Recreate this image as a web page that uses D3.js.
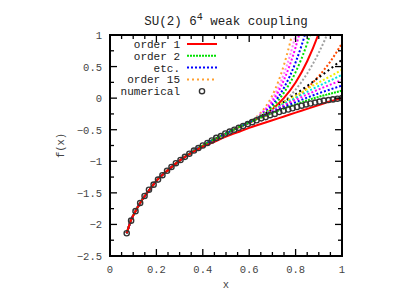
<!DOCTYPE html>
<html>
<head>
<meta charset="utf-8">
<script src="https://cdn.jsdelivr.net/npm/d3@7"></script>
<style>
  body { margin: 0; background: #fff; }
  svg text { font-family: "Liberation Mono", "DejaVu Sans Mono", monospace; }
</style>
</head>
<body>
<div id="chart"></div>
<script>
// numerical result (circles)
const numX = [0.072, 0.091, 0.110, 0.130, 0.149, 0.168, 0.188, 0.207, 0.226, 0.246,
              0.265, 0.284, 0.304, 0.323, 0.342, 0.362, 0.381, 0.400, 0.420, 0.439,
              0.458, 0.478, 0.497, 0.516, 0.536, 0.555, 0.574, 0.594, 0.613, 0.632,
              0.652, 0.671, 0.690, 0.710, 0.729, 0.748, 0.768, 0.787, 0.806, 0.826,
              0.845, 0.864, 0.884, 0.903, 0.922, 0.942, 0.961, 0.980, 1.000];
const numY = [-2.14, -1.94, -1.79, -1.66, -1.55, -1.45, -1.37, -1.29, -1.22, -1.15,
              -1.09, -1.03, -0.98, -0.93, -0.88, -0.83, -0.79, -0.75, -0.71, -0.67,
              -0.63, -0.60, -0.56, -0.53, -0.50, -0.47, -0.44, -0.41, -0.38, -0.35,
              -0.32, -0.30, -0.27, -0.25, -0.22, -0.20, -0.18, -0.16, -0.14, -0.12,
              -0.10, -0.085, -0.07, -0.055, -0.04, -0.03, -0.02, -0.01, 0.0];

// weak coupling expansions: common low-x part, then one tail per order
const baseX = [0.072, 0.09, 0.11, 0.13, 0.15, 0.175, 0.2, 0.25, 0.3];
const baseY = [-2.14, -1.94, -1.79, -1.66, -1.55, -1.43, -1.31, -1.14, -0.99];
const tailX = [0.35, 0.4, 0.45, 0.5, 0.55, 0.6, 0.65, 0.7, 0.75, 0.8, 0.85, 0.9, 0.95, 1.0];
const order1  = [-0.87, -0.77, -0.69, -0.61, -0.54, -0.47, -0.41, -0.35, -0.29, -0.23, -0.17, -0.11, -0.05, 0.0];
const order2  = [-0.86, -0.75, -0.65, -0.56, -0.47, -0.386, -0.307, -0.237, -0.164, -0.10, -0.035, 0.022, 0.07, 0.12];
const order3  = [-0.86, -0.75, -0.65, -0.56, -0.47, -0.383, -0.299, -0.222, -0.141, -0.067, 0.009, 0.077, 0.138, 0.20];
const order4  = [-0.86, -0.75, -0.65, -0.56, -0.47, -0.379, -0.29, -0.204, -0.114, -0.03, 0.058, 0.139, 0.213, 0.29];
const order5  = [-0.86, -0.75, -0.65, -0.56, -0.47, -0.376, -0.281, -0.189, -0.09, 0.003, 0.101, 0.194, 0.28, 0.37];
const order6  = [-0.86, -0.75, -0.65, -0.56, -0.47, -0.373, -0.273, -0.174, -0.067, 0.036, 0.145, 0.249, 0.347, 0.45];
const order7  = [-0.86, -0.75, -0.65, -0.56, -0.47, -0.378, -0.28, -0.176, -0.058, 0.062, 0.194, 0.328, 0.464, 0.61];
const order8  = [-0.86, -0.75, -0.65, -0.56, -0.47, -0.389, -0.31, -0.228, -0.123, 0.0, 0.158, 0.35, 0.581, 0.87];
const order9  = [-0.86, -0.75, -0.65, -0.56, -0.47, -0.388, -0.302, -0.2, -0.054, 0.135, 0.391, 0.72, 1.135, 1.66];
const order10 = [-0.86, -0.75, -0.65, -0.56, -0.47, -0.388, -0.295, -0.175, 0.003, 0.247, 0.584, 1.028, 1.59, 2.31];
const order11 = [-0.86, -0.75, -0.65, -0.56, -0.47, -0.387, -0.284, -0.139, 0.088, 0.412, 0.868, 1.48, 2.27, 3.27];
const order12 = [-0.86, -0.75, -0.65, -0.56, -0.47, -0.386, -0.274, -0.106, 0.166, 0.566, 1.131, 1.9, 2.89, 4.16];
const order13 = [-0.86, -0.75, -0.65, -0.56, -0.47, -0.384, -0.259, -0.054, 0.289, 0.806, 1.546, 2.56, 3.87, 5.56];
const order14 = [-0.86, -0.75, -0.65, -0.56, -0.47, -0.383, -0.246, -0.012, 0.389, 1.0, 1.88, 3.09, 4.67, 6.69];
const order15 = [-0.86, -0.75, -0.65, -0.56, -0.47, -0.382, -0.229, 0.046, 0.528, 1.27, 2.35, 3.9, 5.8, 8.27];

const legendLabels = ["order 1", "order 2", "etc.", "order 15", "numerical"];
const xTicks = [0, 0.2, 0.4, 0.6, 0.8, 1];
const yTicks = [1, 0.5, 0, -0.5, -1, -1.5, -2, -2.5];

function drawChart() {
    const W = 415, H = 291;
    let margin = {top: 35, right: 73, bottom: 35, left: 110};
    let width = W - margin.left - margin.right;
    let height = H - margin.top - margin.bottom;

    let svg = d3.select("#chart").append("svg")
        .attr("width", W).attr("height", H);

    let g = svg.append("g")
        .attr("transform", "translate(" + margin.left + "," + margin.top + ")");

    let x = d3.scaleLinear().domain([0, 1]).range([0, width]);
    let y = d3.scaleLinear().domain([-2.5, 1]).range([height, 0]);

    // styles per order (gnuplot-like)
    const colors = ["#ff0000", "#00e000", "#0000ff", "#ff00ff", "#00e0e0", "#f0f000", "#000000", "#ff4800",
                    "#a0a0a0", "#ff0000", "#00e000", "#0000ff", "#ff00ff", "#ff80ff", "#ffa030"];
    const dashes = [null, "2,1", "2,2", "2,2", "2,2", "2,2", "2,3", "2,2",
                    "2,2", null, "2,2", "2,2", "2,2", "2,2", "2,3"];
    const tails = [order1, order2, order3, order4, order5, order6, order7, order8,
                   order9, order10, order11, order12, order13, order14, order15];

    g.append("clipPath").attr("id", "clip")
        .append("rect").attr("width", width).attr("height", height);

    let line = d3.line()
        .x(d => x(d[0]))
        .y(d => y(d[1]))
        .curve(d3.curveMonotoneX);

    let plot = g.append("g").attr("clip-path", "url(#clip)");

    // draw higher orders first, order 1 on top
    for (let i = tails.length - 1; i >= 0; i--) {
        let pts = baseX.map((v, k) => [v, baseY[k]])
            .concat(tailX.map((v, k) => [v, tails[i][k]]));
        plot.append("path")
            .datum(pts)
            .attr("class", "series")
            .attr("fill", "none")
            .attr("stroke", colors[i])
            .attr("stroke-width", 2)
            .attr("stroke-dasharray", dashes[i])
            .attr("d", line);
    }

    // numerical circles
    plot.append("g")
        .selectAll("circle")
        .data(numX.map((v, k) => [v, numY[k]]))
        .enter()
        .append("circle")
        .attr("cx", d => x(d[0]))
        .attr("cy", d => y(d[1]))
        .attr("r", 2.6)
        .attr("fill", "none")
        .attr("stroke", "#333")
        .attr("stroke-width", 1.4);

    // ticks on all four sides, pointing inward
    let xMinor = d3.range(0, 1.0001, 0.05);
    let yMinor = d3.range(-2.5, 1.0001, 0.25);
    let tickG = g.append("g").attr("stroke", "#000").attr("stroke-width", 1.3);
    xMinor.forEach(v => {
        let major = Math.abs(v * 5 - Math.round(v * 5)) < 1e-6;
        let len = major ? 7 : 4;
        tickG.append("line").attr("x1", x(v)).attr("x2", x(v)).attr("y1", height).attr("y2", height - len);
        tickG.append("line").attr("x1", x(v)).attr("x2", x(v)).attr("y1", 0).attr("y2", len);
    });
    yMinor.forEach(v => {
        let major = Math.abs(v * 2 - Math.round(v * 2)) < 1e-6;
        let len = major ? 7 : 4;
        tickG.append("line").attr("x1", 0).attr("x2", len).attr("y1", y(v)).attr("y2", y(v));
        tickG.append("line").attr("x1", width).attr("x2", width - len).attr("y1", y(v)).attr("y2", y(v));
    });

    // frame
    g.append("rect")
        .attr("width", width).attr("height", height)
        .attr("fill", "none").attr("stroke", "#000").attr("stroke-width", 2);

    // tick labels
    g.append("g").selectAll("text")
        .data(xTicks).enter().append("text")
        .attr("x", d => x(d)).attr("y", height + 17)
        .attr("text-anchor", "middle")
        .attr("font-size", 10.5).attr("fill", "#444")
        .text(d => d3.format("")(d));
    g.append("g").selectAll("text")
        .data(yTicks).enter().append("text")
        .attr("x", -8).attr("y", d => y(d) + 4)
        .attr("text-anchor", "end")
        .attr("font-size", 10.5).attr("fill", "#444")
        .text(d => String(d).replace("-", "\u2212"));

    // axis labels and title
    g.append("text")
        .attr("x", width / 2).attr("y", height + 32)
        .attr("text-anchor", "middle").attr("font-size", 10.5).attr("fill", "#444")
        .text("x");
    g.append("text")
        .attr("transform", "translate(-46," + (height / 2) + ") rotate(-90)")
        .attr("text-anchor", "middle").attr("font-size", 10.5).attr("fill", "#444")
        .text("f(x)");
    let title = svg.append("text")
        .attr("x", margin.left + width / 2).attr("y", 25)
        .attr("text-anchor", "middle").attr("font-size", 12.5).attr("fill", "#222");
    title.append("tspan").text("SU(2) 6");
    title.append("tspan").attr("dy", -5).attr("font-size", 10).text("4");
    title.append("tspan").attr("dy", 5).text(" weak coupling");

    // legend
    let legendIdx = [0, 1, 2, 14];
    let leg = svg.append("g");
    legendLabels.forEach((lab, i) => {
        let ly = 44 + i * 11.8;
        leg.append("text")
            .attr("x", 180).attr("y", ly + 4)
            .attr("text-anchor", "end").attr("font-size", 11).attr("fill", "#222")
            .text(lab);
        if (i < 4) {
            let k = legendIdx[i];
            leg.append("line")
                .attr("x1", 187).attr("x2", 217).attr("y1", ly).attr("y2", ly)
                .attr("stroke", colors[k]).attr("stroke-width", 2)
                .attr("stroke-dasharray", dashes[k]);
        } else {
            leg.append("circle")
                .attr("cx", 202).attr("cy", ly).attr("r", 2.6)
                .attr("fill", "none").attr("stroke", "#333").attr("stroke-width", 1.4);
        }
    });
}
drawChart();
</script>
</body>
</html>
